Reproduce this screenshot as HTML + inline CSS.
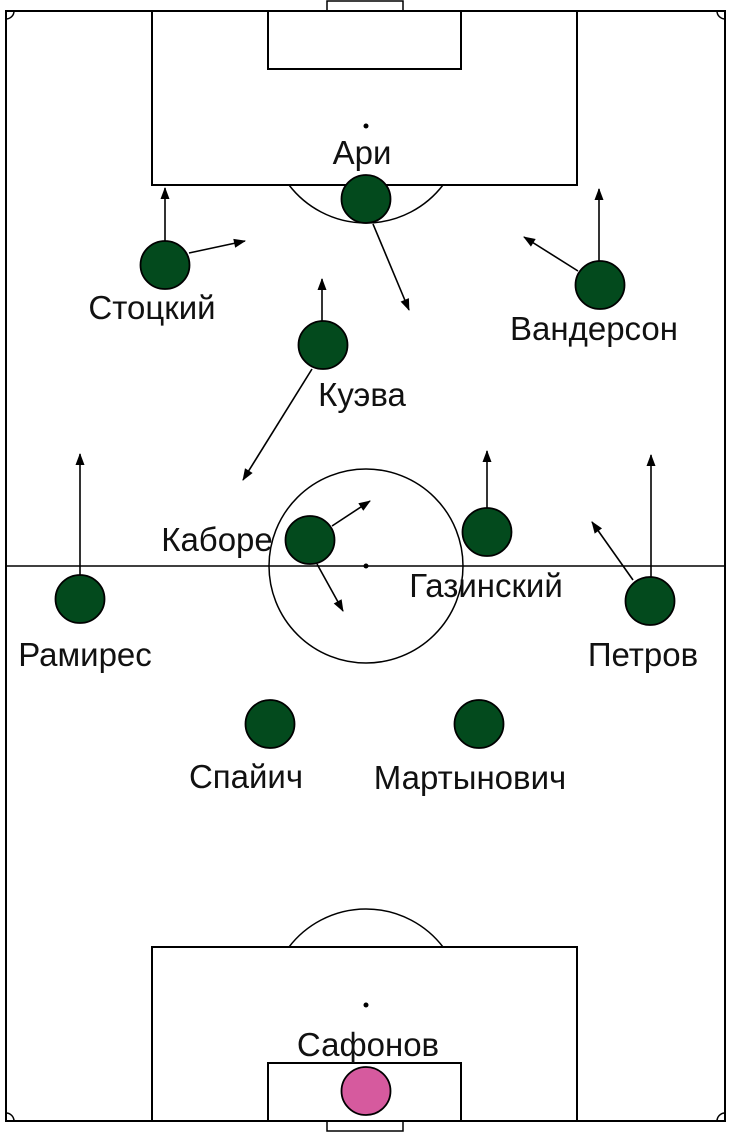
<!DOCTYPE html>
<html><head><meta charset="utf-8"><style>
html,body{margin:0;padding:0;background:#fff;}
svg{display:block;}
text{font-family:"Liberation Sans","DejaVu Sans",sans-serif;font-size:33px;fill:#111;text-anchor:middle;}
</style></head><body>
<svg width="730" height="1132" viewBox="0 0 730 1132" xmlns="http://www.w3.org/2000/svg">
<defs>
<marker id="b" viewBox="0 0 12 10" refX="11" refY="5" markerWidth="14" markerHeight="10" markerUnits="userSpaceOnUse" orient="auto"><path d="M0,0.5 L12,5 L0,9.5 z" fill="#000"/></marker>
</defs>
<g fill="none" stroke="#000" stroke-width="2">
<rect x="6" y="11" width="719" height="1110"/>
<rect x="327" y="1" width="76" height="10" stroke-width="1.5"/>
<rect x="327" y="1121" width="76" height="10" stroke-width="1.5"/>
<rect x="152" y="11" width="425" height="174"/>
<rect x="268" y="11" width="193" height="58"/>
<rect x="152" y="947" width="425" height="174"/>
<rect x="268" y="1063" width="193" height="58"/>
<path d="M289,185 A97,97 0 0 0 443,185" stroke-width="1.5"/>
<path d="M289,947 A97,97 0 0 1 443,947" stroke-width="1.5"/>
<line x1="6" y1="566" x2="725" y2="566" stroke-width="1.5"/>
<circle cx="366" cy="566" r="97" stroke-width="1.5"/>
<path d="M6,19 A8,8 0 0 0 14,11" stroke-width="1.5"/>
<path d="M725,19 A8,8 0 0 1 717,11" stroke-width="1.5"/>
<path d="M6,1113 A8,8 0 0 1 14,1121" stroke-width="1.5"/>
<path d="M725,1113 A8,8 0 0 0 717,1121" stroke-width="1.5"/>
</g>
<circle cx="366" cy="126" r="2.5" fill="#000"/>
<circle cx="366" cy="1005" r="2.5" fill="#000"/>
<circle cx="366" cy="566" r="2.5" fill="#000"/>
<g stroke="#000" stroke-width="1.6" marker-end="url(#b)">
<line x1="165" y1="241" x2="165" y2="188"/>
<line x1="189" y1="253" x2="245" y2="241"/>
<line x1="373" y1="224" x2="409" y2="310"/>
<line x1="599" y1="261" x2="599" y2="189"/>
<line x1="578" y1="271" x2="524" y2="237"/>
<line x1="322" y1="321" x2="322" y2="279"/>
<line x1="312" y1="369" x2="243" y2="480"/>
<line x1="332" y1="526" x2="370" y2="501"/>
<line x1="317" y1="564" x2="343" y2="611"/>
<line x1="487" y1="508" x2="487" y2="451"/>
<line x1="80" y1="575" x2="80" y2="454"/>
<line x1="651" y1="578" x2="651" y2="455"/>
<line x1="633" y1="580" x2="592" y2="522"/>
</g>
<g fill="#034a1d" stroke="#000" stroke-width="1.8">
<ellipse cx="366" cy="199" rx="24.5" ry="24"/>
<ellipse cx="165" cy="265" rx="24.5" ry="24"/>
<ellipse cx="600" cy="285" rx="24.5" ry="24"/>
<ellipse cx="323" cy="345" rx="24.5" ry="24"/>
<ellipse cx="310" cy="540" rx="24.5" ry="24"/>
<ellipse cx="487" cy="532" rx="24.5" ry="24"/>
<ellipse cx="80" cy="599" rx="24.5" ry="24"/>
<ellipse cx="650" cy="601" rx="24.5" ry="24"/>
<ellipse cx="270" cy="724" rx="24.5" ry="24"/>
<ellipse cx="479" cy="724" rx="24.5" ry="24"/>
</g>
<ellipse cx="366" cy="1091" rx="24.5" ry="24" fill="#d65a9e" stroke="#000" stroke-width="1.8"/>
<text x="362" y="164">Ари</text>
<text x="152" y="319">Стоцкий</text>
<text x="594" y="340">Вандерсон</text>
<text x="362" y="406">Куэва</text>
<text x="217" y="551">Каборе</text>
<text x="486" y="597">Газинский</text>
<text x="85" y="666">Рамирес</text>
<text x="643" y="666">Петров</text>
<text x="246" y="788">Спайич</text>
<text x="470" y="789">Мартынович</text>
<text x="368" y="1056">Сафонов</text>
</svg>
</body></html>
